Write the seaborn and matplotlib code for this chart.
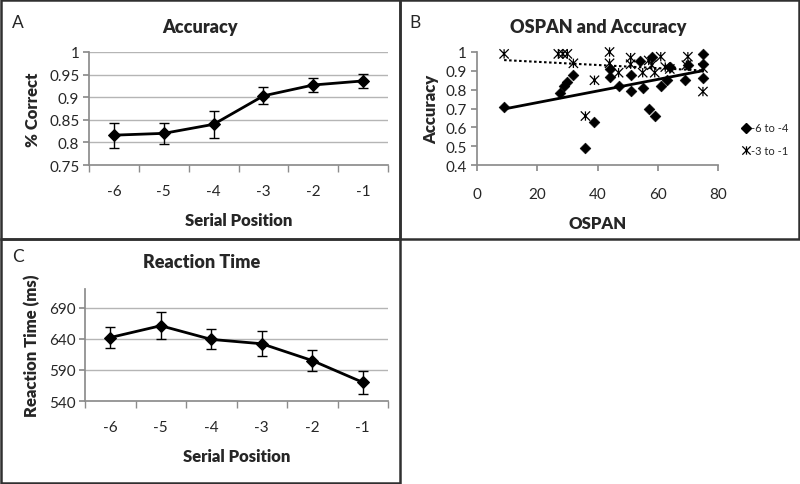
import numpy as np
import pandas as pd
import matplotlib
matplotlib.use("Agg")
import matplotlib.pyplot as plt
from matplotlib.patches import Rectangle
from matplotlib.path import Path
from matplotlib.lines import Line2D
import seaborn as sns

# Panel A / C: means and error bars per serial position
positions = [-6, -5, -4, -3, -2, -1]
acc_mean = [0.816, 0.820, 0.840, 0.903, 0.927, 0.936]
acc_err = [0.028, 0.023, 0.030, 0.019, 0.016, 0.016]
rt_mean = [642, 661, 639, 632, 605, 570]
rt_err = [17, 22, 16, 20, 17, 19]

# Panel B: OSPAN vs accuracy
ospan_early = [9, 27.7, 29, 30, 32, 36, 39, 44, 44, 47, 51, 51, 54, 55, 57, 58, 59,
               61, 63, 64, 69, 70, 75, 75, 75]
acc_early = [0.71, 0.78, 0.82, 0.84, 0.88, 0.49, 0.63, 0.91, 0.865, 0.82, 0.88, 0.795,
             0.95, 0.81, 0.70, 0.975, 0.66, 0.82, 0.85, 0.92, 0.85, 0.93, 0.99, 0.935, 0.86]
ospan_late = [9, 27, 28.5, 30, 32, 36, 39, 44, 44, 47, 51, 51, 55, 57, 58, 59, 61,
              62.5, 64, 69.5, 70, 75, 75]
acc_late = [0.99, 0.99, 0.99, 0.99, 0.94, 0.66, 0.85, 1.0, 0.94, 0.89, 0.97, 0.935,
            0.89, 0.955, 0.93, 0.89, 0.975, 0.92, 0.91, 0.93, 0.975, 0.915, 0.79]
legend_labels = ["-6 to -4", "-3 to -1"]

sns.set_theme(style="white")
plt.rcParams['font.family'] = ['Lato', 'DejaVu Sans']

W, H = 800, 485
fig = plt.figure(figsize=(8, 4.85), dpi=100)


def px_axes(left, right, top, bottom):
    return fig.add_axes([left / W, 1 - bottom / H, (right - left) / W, (bottom - top) / H])


def box(x0, y0, x1, y1):
    fig.add_artist(Rectangle((x0 / W, 1 - y1 / H), (x1 - x0) / W, (y1 - y0) / H,
                             transform=fig.transFigure, fill=False, lw=1.8, ec="#303030"))


box(1, 1, 400, 240)
box(400, 1, 799, 240)
box(1, 240, 400, 484)

axis_col = "#8c8c8c"
grid_col = "#b5b5b5"
tick_fs = 11
lab_fs = 12
title_fs = 13
heavy = "heavy"


def line_panel(ax, means, errs, ylim, yticks):
    df = pd.DataFrame({"pos": positions, "val": means})
    ax.errorbar(positions, means, yerr=errs, fmt="none", ecolor="black", elinewidth=1,
                capsize=3.5, capthick=1, zorder=3)
    sns.lineplot(data=df, x="pos", y="val", ax=ax, color="black", lw=2, marker="D",
                 markersize=6, markeredgecolor="black", zorder=4)
    ax.set_xlim(-6.5, -0.5)
    ax.set_ylim(*ylim)
    ax.set_xticks(positions)
    ax.set_xticklabels([str(p) for p in positions], fontsize=tick_fs)
    ax.set_xticks(np.arange(-6.5, 0, 1), minor=True)
    ax.tick_params(axis="x", which="major", length=0, pad=14)
    ax.tick_params(axis="x", which="minor", length=5, color=axis_col, direction="out", bottom=True)
    ax.set_yticks(yticks)
    ax.tick_params(axis="y", length=4, color=axis_col, direction="out", left=True, labelsize=tick_fs, pad=3)
    for y in yticks:
        if y != ylim[0]:
            ax.axhline(y, color=grid_col, lw=1, zorder=0)
    sns.despine(ax=ax)
    ax.spines["left"].set_color(axis_col)
    ax.spines["bottom"].set_color(axis_col)
    ax.set_xlabel("Serial Position", fontsize=lab_fs, fontweight=heavy, labelpad=10)


# Panel A
axA = px_axes(89, 388, 53, 166)
line_panel(axA, acc_mean, acc_err, (0.75, 1.0), [0.75, 0.8, 0.85, 0.9, 0.95, 1.0])
axA.set_yticklabels(["0.75", "0.8", "0.85", "0.9", "0.95", "1"])
axA.set_ylabel("% Correct", fontsize=lab_fs, fontweight=heavy, labelpad=6)
fig.text(200 / W, 1 - 27 / H, "Accuracy", fontsize=title_fs, fontweight=heavy, ha="center", va="center")
fig.text(12 / W, 1 - 23 / H, "A", fontsize=12.5, va="center", ha="left")

# Panel C
axC = px_axes(85, 388, 290, 402)
line_panel(axC, rt_mean, rt_err, (540, 720), [540, 590, 640, 690])
axC.set_ylabel("Reaction Time (ms)", fontsize=lab_fs, fontweight=heavy, labelpad=6)
fig.text(202 / W, 1 - 263 / H, "Reaction Time", fontsize=title_fs, fontweight=heavy, ha="center", va="center")
fig.text(12 / W, 1 - 257 / H, "C", fontsize=12.5, va="center", ha="left")

# Panel B
star = Path([(-1, -1), (1, 1), (-1, 1), (1, -1), (0, -1), (0, 1)],
            [Path.MOVETO, Path.LINETO, Path.MOVETO, Path.LINETO, Path.MOVETO, Path.LINETO])
axB = px_axes(477, 718, 53, 166)
sns.regplot(x=np.array(ospan_late), y=np.array(acc_late), ax=axB, scatter=False, ci=None,
            line_kws=dict(color="black", lw=1.5, ls=(0, (1.2, 1.2))))
sns.regplot(x=np.array(ospan_early), y=np.array(acc_early), ax=axB, scatter=False, ci=None,
            line_kws=dict(color="black", lw=2))
sns.scatterplot(x=ospan_late, y=acc_late, ax=axB, marker=star, s=45, facecolor="none",
                edgecolor="black", linewidth=0.9, zorder=3, clip_on=False)
sns.scatterplot(x=ospan_early, y=acc_early, ax=axB, marker="D", s=30, color="black",
                edgecolor="black", zorder=4, clip_on=False)
axB.set_xlim(0, 80)
axB.set_ylim(0.4, 1.0)
axB.set_xticks([0, 20, 40, 60, 80])
axB.set_yticks([0.4, 0.5, 0.6, 0.7, 0.8, 0.9, 1.0])
axB.set_yticklabels(["0.4", "0.5", "0.6", "0.7", "0.8", "0.9", "1"])
axB.tick_params(axis="both", length=4, color=axis_col, direction="out", bottom=True, left=True,
                labelsize=tick_fs)
axB.tick_params(axis="x", pad=12)
sns.despine(ax=axB)
axB.spines["left"].set_color(axis_col)
axB.spines["bottom"].set_color(axis_col)
axB.set_xlabel("OSPAN", fontsize=lab_fs, fontweight=heavy, labelpad=10)
axB.set_ylabel("Accuracy", fontsize=lab_fs, fontweight=heavy, labelpad=4)
fig.text(598 / W, 1 - 27 / H, "OSPAN and Accuracy", fontsize=title_fs, fontweight=heavy,
         ha="center", va="center")
fig.text(409 / W, 1 - 23 / H, "B", fontsize=12.5, va="center", ha="left")

handles = [Line2D([], [], ls="none", marker="D", color="black", markersize=5),
           Line2D([], [], ls="none", marker=star, markerfacecolor="none", markeredgecolor="black",
                  markersize=6, markeredgewidth=0.9)]
fig.legend(handles, legend_labels, loc="center left", bbox_to_anchor=(737 / W, 1 - 140 / H),
           frameon=False, fontsize=8, handlelength=0.6, handletextpad=0.2, labelspacing=1.0,
           borderpad=0)

fig.savefig("out.png", dpi=100)
